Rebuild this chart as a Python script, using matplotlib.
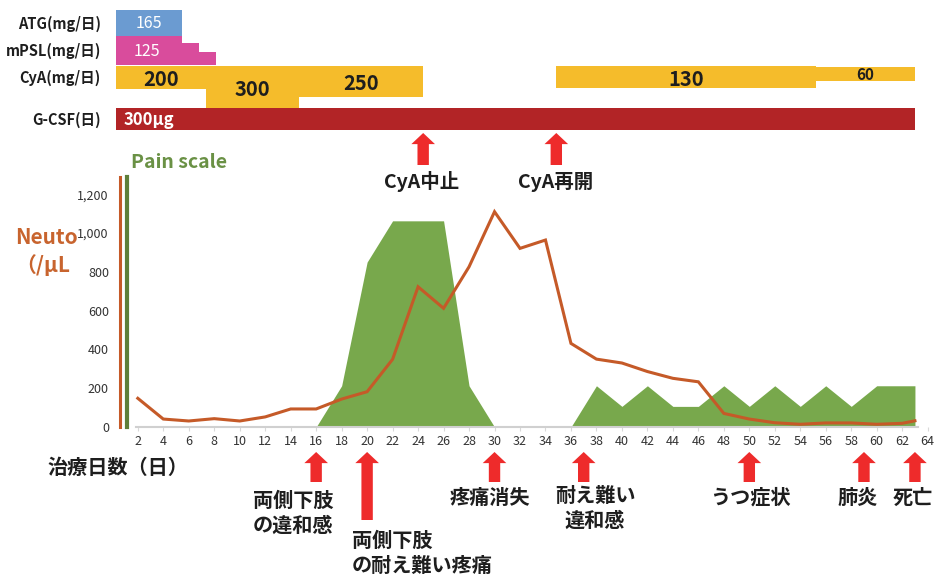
import matplotlib
matplotlib.use('Agg')
import matplotlib.pyplot as plt
import matplotlib.transforms as mtransforms
from matplotlib.patches import FancyArrowPatch
from matplotlib.ticker import FuncFormatter

plt.rcParams['font.family'] = ['Noto Sans CJK JP', 'DejaVu Sans']

W, H, DPI = 934, 576, 100

# ---------------- data ----------------
neuto_days = [2, 4, 6, 8, 10, 12, 14, 16, 18, 20, 22, 24, 26, 28, 30, 32, 34,
              36, 38, 40, 42, 44, 46, 48, 50, 52, 54, 56, 58, 60, 62, 63]
neuto_vals = [148, 41, 31, 43, 31, 52, 93, 93, 144, 182, 349, 723, 612, 826, 1110, 921, 964,
              431, 350, 330, 286, 251, 233, 70, 41, 22, 14, 21, 21, 14, 19, 32]
pain_days = neuto_days
pain_vals = [0, 0, 0, 0, 0, 0, 0, 0, 2, 8, 10, 10, 10, 2, 0, 0, 0,
             0, 2, 1, 2, 1, 1, 2, 1, 2, 1, 2, 1, 2, 2, 2]
xtick_days = list(range(2, 65, 2))
ytick_vals = [0, 200, 400, 600, 800, 1000, 1200]

atg_start, atg_end, atg_dose = [0.3], [5.5], ['165']
mpsl_start, mpsl_end, mpsl_dose = [0.3, 5.5, 6.8], [5.5, 6.8, 8.1], ['125', '', '']
cya_start = [0.3, 7.35, 14.65, 34.85, 55.2]
cya_end = [7.35, 14.65, 24.4, 55.2, 63.0]
cya_dose = ['200', '300', '250', '130', '60']
gcsf_start, gcsf_end, gcsf_dose = [0.3], [63.0], ['300μg']
row_labels = ['ATG(mg/日)', 'mPSL(mg/日)', 'CyA(mg/日)', 'G-CSF(日)']

top_event_days = [24.4, 34.85]
top_event_labels = ['CyA中止', 'CyA再開']
bottom_event_days = [16, 20, 30, 37, 50, 59, 63]
bottom_event_labels = ['両側下肢\nの違和感', '両側下肢\nの耐え難い疼痛', '疼痛消失',
                       '耐え難い\n違和感', 'うつ症状', '肺炎', '死亡']

# ---------------- styles ----------------
C_NEUTO = '#C55A28'
C_PAIN = '#78A84C'
C_PAIN_AX = '#5E7F3A'
C_ATG = '#6B9BD1'
C_MPSL = '#D94C9C'
C_CYA = '#F5BC2B'
C_GCSF = '#B22426'
C_ARROW = '#EE2B2B'
C_TEXT = '#1E1E1E'

fig = plt.figure(figsize=(W / DPI, H / DPI), dpi=DPI)
pix = mtransforms.Affine2D().scale(1, -1).translate(0, H)  # (x px, y px from top)


def rect(l, t, r, b):
    return [l / W, 1 - b / H, (r - l) / W, (b - t) / H]


def px2day(px):
    return 2 + (px - 137.8) / 12.74


YLIM = (0, 1289)
PAIN_TOP = 10 * 1289 / 1063

ax = fig.add_axes(rect(120, 177, 932, 427))
ax2 = ax.twinx()
ax2.set_zorder(ax.get_zorder() - 1)
ax.patch.set_visible(False)

ax2.fill_between(pain_days, pain_vals, 0, color=C_PAIN, lw=0)
ax2.set_ylim(0, PAIN_TOP)
ax2.set_yticks([])
ax2.tick_params(right=False, labelright=False)
for s in ['top', 'right', 'bottom']:
    ax2.spines[s].set_visible(False)
ax2.spines['left'].set_color(C_PAIN_AX)
ax2.spines['left'].set_linewidth(3.0)
ax2.spines['left'].set_position(('outward', -5.0))

ax.plot(neuto_days, neuto_vals, color=C_NEUTO, lw=2.2, solid_joinstyle='miter', zorder=3)
ax.set_xlim(px2day(120), px2day(932))
ax.set_ylim(*YLIM)
ax.set_xticks(xtick_days)
ax.set_xticklabels([str(d) for d in xtick_days])
ax.set_yticks(ytick_vals)
ax.yaxis.set_major_formatter(FuncFormatter(lambda v, p: f'{v:,.0f}'))
ax.tick_params(axis='y', length=0, pad=8, labelsize=9, labelcolor='#333333')
ax.tick_params(axis='x', length=3, color='#d9d9d9', pad=3, labelsize=9, labelcolor='#333333')
for s in ['top', 'right']:
    ax.spines[s].set_visible(False)
ax.spines['left'].set_color(C_NEUTO)
ax.spines['left'].set_linewidth(2.2)
ax.spines['bottom'].set_color('#d0d0d0')
ax.spines['bottom'].set_linewidth(1.5)
ax.spines['bottom'].set_bounds(1.85, 63.25)

# ---------------- treatment bars ----------------
axT = fig.add_axes(rect(105, 0, 932, 140))
axT.set_xlim(px2day(105), px2day(932))
axT.set_ylim(140, 0)
axT.axis('off')


def bars(starts, ends, tops, heights, color):
    axT.bar(starts, heights, width=[e - s for s, e in zip(starts, ends)], bottom=tops,
            align='edge', color=color, lw=0)


bars(atg_start, atg_end, [10], [25.5], C_ATG)
bars(mpsl_start, mpsl_end, [35.5, 43, 52], [29.5, 22, 13], C_MPSL)
cya_tops = [66, 66, 66, 66, 67]
cya_h = [23, 42, 31, 22, 14]
bars(cya_start, cya_end, cya_tops, cya_h, C_CYA)
bars(gcsf_start, gcsf_end, [108], [22], C_GCSF)

axT.text((atg_start[0] + atg_end[0]) / 2, 23.5, atg_dose[0], ha='center', va='center',
         color='white', fontsize=11.5)
axT.text((mpsl_start[0] + mpsl_end[0]) / 2 - 0.2, 51, mpsl_dose[0], ha='center', va='center',
         color='white', fontsize=11.5)
cya_fs = [14.5, 14.5, 14.5, 14.5, 11]
cya_dy = [2, 3, 2, 2, 1]
for s, e, t, h, lab, fs, dy in zip(cya_start, cya_end, cya_tops, cya_h, cya_dose, cya_fs, cya_dy):
    axT.text((s + e) / 2, t + h / 2 + dy, lab, ha='center', va='center', color=C_TEXT,
             fontsize=fs, fontweight='bold')
axT.text(gcsf_start[0] + 0.55, 120, gcsf_dose[0], ha='left', va='center', color='white',
         fontsize=12, fontweight='bold')

for lab, y in zip(row_labels, [24, 51, 78, 120]):
    fig.text(101, y, lab, transform=pix, ha='right', va='center', fontsize=10.5,
             fontweight='bold', color=C_TEXT)

# ---------------- arrows & event labels ----------------
blend = mtransforms.blended_transform_factory(ax.transData, pix)
astyle = 'simple,head_length=0.8,head_width=1.7,tail_width=0.82'


def arrow(day, tip, base):
    fig.add_artist(FancyArrowPatch((day, base), (day, tip), transform=blend,
                                   arrowstyle=astyle, mutation_scale=10, fc=C_ARROW,
                                   ec='none', shrinkA=0, shrinkB=0))


for d in top_event_days:
    arrow(d, 133, 165)
for lab, x in zip(top_event_labels, [422, 556]):
    fig.text(x, 182, lab, transform=pix, ha='center', va='center', fontsize=14,
             fontweight='bold', color=C_TEXT)

bottom_bases = [482, 520, 482, 482, 482, 482, 482]
for d, b in zip(bottom_event_days, bottom_bases):
    arrow(d, 452, b)

label_layout = [(253, 500, 'left'), (352, 540, 'left'), (490, 497, 'center'),
                (595, 495, 'center'), (750, 497, 'center'), (858, 497, 'center'),
                (913, 497, 'center')]
for lab, (x, y, ha) in zip(bottom_event_labels, label_layout):
    for i, line in enumerate(lab.split('\n')):
        fig.text(x, y + 25 * i, line, transform=pix, ha=ha, va='center', fontsize=14.5,
                 fontweight='bold', color=C_TEXT)

# ---------------- axis titles ----------------
fig.text(47, 467, '治療日数（日）', transform=pix, ha='left', va='center', fontsize=14.5,
         fontweight='bold', color=C_TEXT)
fig.text(131, 162, 'Pain scale', transform=pix, ha='left', va='center', fontsize=14,
         fontweight='bold', color='#6A9145')
fig.text(15, 237, 'Neuto', transform=pix, ha='left', va='center', fontsize=15,
         fontweight='bold', color='#C8642E')
fig.text(15, 265, '（/μL', transform=pix, ha='left', va='center', fontsize=15,
         fontweight='bold', color='#C8642E')

fig.savefig('out.png', dpi=DPI)
